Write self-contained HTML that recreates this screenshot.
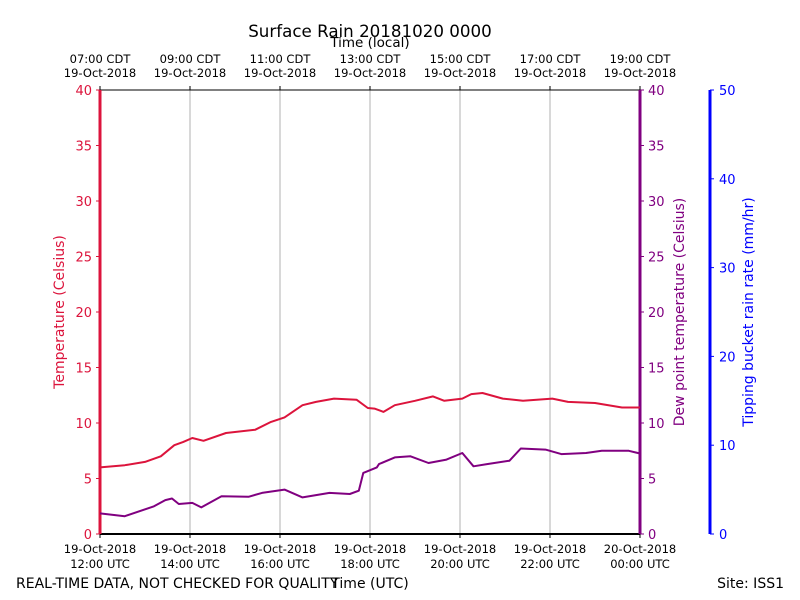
<!DOCTYPE html>
<html><head><meta charset="utf-8"><style>
body{margin:0;background:#fff}
svg{display:block;font-family:"DejaVu Sans","Liberation Sans",sans-serif}
</style></head><body>
<svg id="chart" width="800" height="600" viewBox="0 0 800 600" xmlns="http://www.w3.org/2000/svg">
<rect width="800" height="600" fill="#fff"/>
<text x="370" y="37" font-size="16.7" text-anchor="middle">Surface Rain 20181020 0000</text>
<text x="370" y="47" font-size="13.5" text-anchor="middle">Time (local)</text>
<g id="grid"></g><g id="axes"></g><g id="series"></g>
<text transform="translate(64,312) rotate(-90)" font-size="14" fill="#dc143c" text-anchor="middle">Temperature (Celsius)</text>
<text transform="translate(684,312) rotate(-90)" font-size="14" fill="#800080" text-anchor="middle">Dew point temperature (Celsius)</text>
<text transform="translate(753,312) rotate(-90)" font-size="14" fill="#0000ff" text-anchor="middle">Tipping bucket rain rate (mm/hr)</text>
<text x="370" y="588" font-size="14" text-anchor="middle">Time (UTC)</text>
<text x="16" y="588" font-size="14">REAL-TIME DATA, NOT CHECKED FOR QUALITY</text>
<text x="784" y="588" font-size="14" text-anchor="end">Site: ISS1</text>
</svg>
<script>
const tempHours=[0,0.55,1,1.35,1.65,1.85,2.05,2.3,2.8,3.45,3.8,4.1,4.5,4.8,5.2,5.7,5.95,6.1,6.3,6.55,7,7.4,7.65,8.05,8.25,8.5,8.95,9.4,10.05,10.4,11,11.6,12];
const tempValues=[6.0,6.2,6.5,7.0,8.0,8.3,8.65,8.4,9.1,9.4,10.1,10.5,11.6,11.9,12.2,12.1,11.35,11.3,11.0,11.6,12.0,12.4,12.0,12.2,12.6,12.7,12.2,12.0,12.2,11.9,11.8,11.4,11.4];
const dewHours=[0,0.55,1.2,1.45,1.6,1.75,2.05,2.25,2.7,3.3,3.6,4.1,4.5,5.1,5.55,5.75,5.85,6.15,6.2,6.55,6.9,7.3,7.7,8.05,8.3,8.6,9.1,9.35,9.9,10.25,10.8,11.15,11.75,12];
const dewValues=[1.86,1.6,2.5,3.05,3.2,2.7,2.8,2.4,3.4,3.35,3.7,4.0,3.3,3.7,3.6,3.9,5.5,6.0,6.3,6.9,7.0,6.4,6.7,7.3,6.1,6.3,6.6,7.7,7.6,7.2,7.3,7.5,7.5,7.25];
const topTickLabels=["07:00 CDT","09:00 CDT","11:00 CDT","13:00 CDT","15:00 CDT","17:00 CDT","19:00 CDT"];
const topTickDates=["19-Oct-2018","19-Oct-2018","19-Oct-2018","19-Oct-2018","19-Oct-2018","19-Oct-2018","19-Oct-2018"];
const bottomTickTimes=["12:00 UTC","14:00 UTC","16:00 UTC","18:00 UTC","20:00 UTC","22:00 UTC","00:00 UTC"];
const bottomTickDates=["19-Oct-2018","19-Oct-2018","19-Oct-2018","19-Oct-2018","19-Oct-2018","19-Oct-2018","20-Oct-2018"];
const tempTicks=[0,5,10,15,20,25,30,35,40];
const rainTicks=[0,10,20,30,40,50];
const NS="http://www.w3.org/2000/svg";
const X0=100,X1=640,Y0=534,Y1=90;
const xs=h=>X0+(X1-X0)*h/12;
const ys=v=>Y0-(Y0-Y1)*v/40;
const yr=v=>Y0-(Y0-Y1)*v/50;
function mk(p,tag,at){const e=document.createElementNS(NS,tag);for(const k in at)e.setAttribute(k,at[k]);document.getElementById(p).appendChild(e);return e;}
function txt(p,x,y,s,size,fill,anchor){const e=mk(p,"text",{x:x,y:y,"font-size":size,fill:fill,"text-anchor":anchor});e.textContent=s;return e;}
for(let i=1;i<6;i++){const g=mk("grid","line",{x1:xs(i*2),x2:xs(i*2),y1:Y1,y2:Y0,stroke:"#b0b0b0","stroke-width":1});

}
let f=mk("axes","line",{x1:X0,x2:X1,y1:Y1,y2:Y1,stroke:"#000","stroke-width":1});


f=mk("axes","line",{x1:X0,x2:X1,y1:Y0,y2:Y0,stroke:"#000","stroke-width":2});


f=mk("axes","line",{x1:X0,x2:X0,y1:Y1,y2:Y0,stroke:"#dc143c","stroke-width":3});


f=mk("axes","line",{x1:X1,x2:X1,y1:Y1,y2:Y0,stroke:"#800080","stroke-width":3});


f=mk("axes","line",{x1:710,x2:710,y1:Y1,y2:Y0,stroke:"#0000ff","stroke-width":3});


tempTicks.forEach(v=>{
 mk("axes","line",{x1:X0-4,x2:X0,y1:ys(v),y2:ys(v),stroke:"#dc143c","stroke-width":1});
 let t=txt("axes",X0-8,ys(v)+5,v,13,"#dc143c","end");
 
 
 mk("axes","line",{x1:X1,x2:X1+4,y1:ys(v),y2:ys(v),stroke:"#800080","stroke-width":1});
 t=txt("axes",X1+8,ys(v)+5,v,13,"#800080","start");
 
 
});
rainTicks.forEach(v=>{
 mk("axes","line",{x1:710,x2:714,y1:yr(v),y2:yr(v),stroke:"#0000ff","stroke-width":1});
 const t=txt("axes",719,yr(v)+5,v,13,"#0000ff","start");
 
 
});
for(let i=0;i<7;i++){
 const x=xs(i*2);
 mk("axes","line",{x1:x,x2:x,y1:Y1-4,y2:Y1,stroke:"#000"});
 mk("axes","line",{x1:x,x2:x,y1:Y0,y2:Y0+4,stroke:"#000"});
 let t=txt("axes",x,63,topTickLabels[i],11.5,"#000","middle");
 
 
 t=txt("axes",x,77,topTickDates[i],11.5,"#000","middle");
 
 
 t=txt("axes",x,553,bottomTickDates[i],11.5,"#000","middle");
 
 
 t=txt("axes",x,568,bottomTickTimes[i],11.5,"#000","middle");
 
 
}
function line(hs,vs,color,name){
 const d=hs.map((h,i)=>(i?"L":"M")+xs(h).toFixed(1)+","+ys(vs[i]).toFixed(1)).join("");
 const p=mk("series","path",{d:d,fill:"none",stroke:color,"stroke-width":2,"stroke-linejoin":"round"});
 
 
}
line(tempHours,tempValues,"#dc143c","temperature-line");
line(dewHours,dewValues,"#800080","dewpoint-line");
</script>
</body></html>
